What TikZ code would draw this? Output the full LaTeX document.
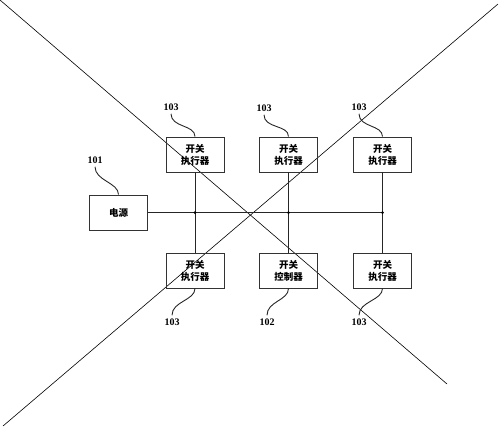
\documentclass[tikz,border=0pt]{standalone}
\usepackage{fontspec}
\newfontfamily\cjk{Noto Sans CJK SC}
\setmainfont{Liberation Serif}
\usepackage{tikz}
\usetikzlibrary{calc,positioning}
\tikzset{every picture/.style={line width=0.75pt}}

\begin{document}
\begin{tikzpicture}[x=1pt,y=-1pt,
    box/.style={draw=black!80,line width=0.9pt,minimum width=58pt,minimum height=35pt,inner sep=0pt,align=center,font=\cjk\bfseries\fontsize{9.5}{12}\selectfont},
    num/.style={inner sep=1pt,font=\bfseries\fontsize{10}{11}\selectfont},
    wire/.style={draw=black!85,line width=0.9pt},
    lead/.style={draw=black!85,line width=0.9pt}]
    \useasboundingbox (0,0) rectangle (500,429);

    % crossing lines
    \draw[line width=0.6pt] (0,0) -- (447,384);
    \draw[line width=0.6pt] (498,4) -- (3,426);

    % blocks
    \node[box] (pwr) at (118.5,212.5) {电源};
    \node[box] (a1) at (195,154.5) {开关\\执行器};
    \node[box] (a2) at (288.5,154.5) {开关\\执行器};
    \node[box] (a3) at (382.5,154.5) {开关\\执行器};
    \node[box] (b1) at (195,270.5) {开关\\执行器};
    \node[box] (b2) at (288.5,270.5) {开关\\控制器};
    \node[box] (b3) at (382.5,270.5) {开关\\执行器};

    % bus and junctions
    \coordinate (j1) at (a1 |- pwr);
    \coordinate (j2) at (a2 |- pwr);
    \coordinate (j3) at (a3 |- pwr);
    \draw[wire] (pwr.east) -- (j3);
    \foreach \t/\b in {a1/b1,a2/b2,a3/b3} {
        \draw[wire] (\t.south) -- (\b.north);
    }
    \foreach \j in {j1,j2,j3} {
        \fill (\j) circle (1.5pt);
    }

    % reference numerals
    \node[num] (n101) at (95,160) {101};
    \node[num] (na1) at (171,107) {103};
    \node[num] (na2) at (264,108) {103};
    \node[num] (na3) at (359,107) {103};
    \node[num] (nb1) at (172,322) {103};
    \node[num] (nb2) at (267,322) {102};
    \node[num] (nb3) at (359,322) {103};

    % leaders
    \draw[lead] ($(n101.south)+(0,2)$) .. controls +(0,14) and +(0,-12) .. (pwr.north);
    \foreach \n/\b in {na1/a1,na2/a2,na3/a3} {
        \draw[lead] ($(\n.south)+(0,2)$) .. controls +(0,14) and +(0,-12) .. (\b.north);
    }
    \foreach \n/\b in {nb1/b1,nb2/b2,nb3/b3} {
        \draw[lead] (\b.south) .. controls +(0,12) and +(0,-14) .. ($(\n.north)+(0,-2)$);
    }
\end{tikzpicture}
\end{document}
